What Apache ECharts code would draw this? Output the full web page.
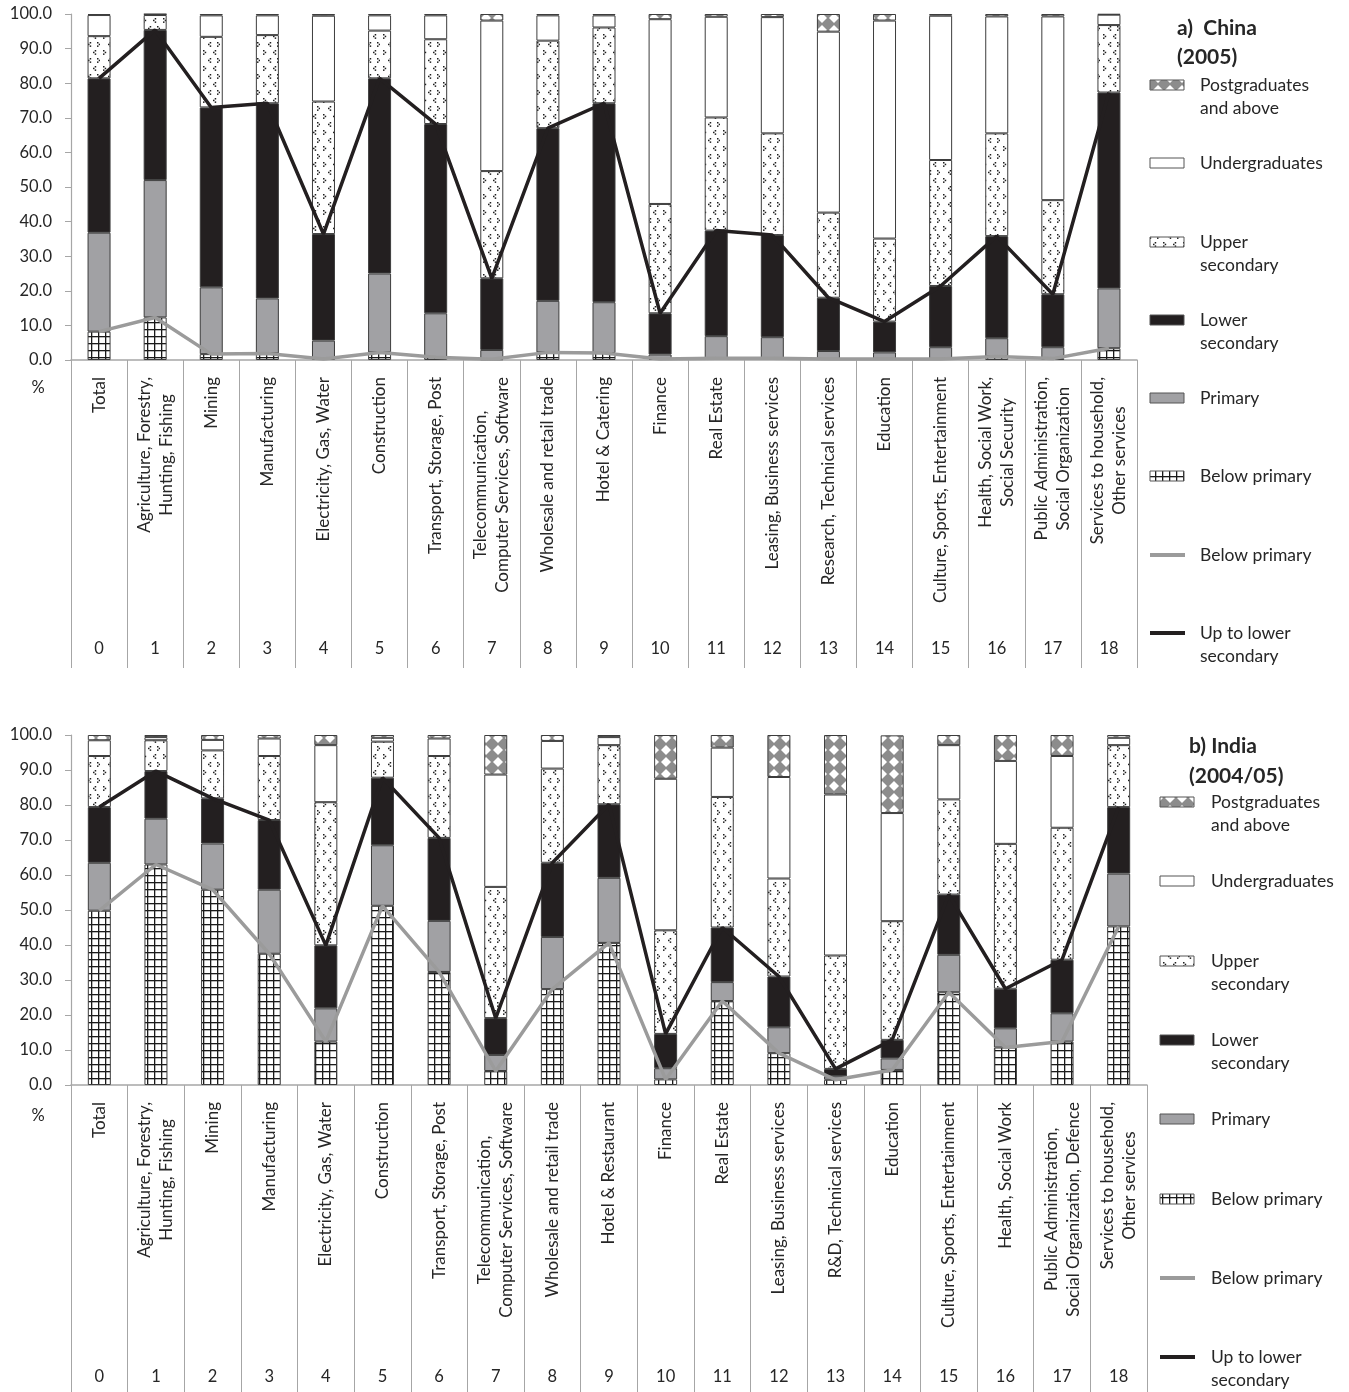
<!DOCTYPE html>
<html>
<head>
<meta charset="utf-8">
<script src="https://cdn.jsdelivr.net/npm/echarts@6/dist/echarts.min.js"></script>
<style>
  html, body { margin: 0; padding: 0; background: #fff; }
  #chart { width: 1349px; height: 1392px; }
</style>
</head>
<body>
<div id="chart"></div>
<script>
// ---- Sectors (x-axis categories) ----
const chinaSectors = [
  'Total', 'Agriculture, Forestry,\nHunting, Fishing', 'Mining', 'Manufacturing',
  'Electricity, Gas, Water', 'Construction', 'Transport, Storage, Post',
  'Telecommunication,\nComputer Services, Software', 'Wholesale and retail trade',
  'Hotel & Catering', 'Finance', 'Real Estate', 'Leasing, Business services',
  'Research, Technical services', 'Education', 'Culture, Sports, Entertainment',
  'Health, Social Work,\nSocial Security', 'Public Administration,\nSocial Organization',
  'Services to household,\nOther services'
];
const indiaSectors = [
  'Total', 'Agriculture, Forestry,\nHunting, Fishing', 'Mining', 'Manufacturing',
  'Electricity, Gas, Water', 'Construction', 'Transport, Storage, Post',
  'Telecommunication,\nComputer Services, Software', 'Wholesale and retail trade',
  'Hotel & Restaurant', 'Finance', 'Real Estate', 'Leasing, Business services',
  'R&D, Technical services', 'Education', 'Culture, Sports, Entertainment',
  'Health, Social Work', 'Public Administration,\nSocial Organization, Defence',
  'Services to household,\nOther services'
];
const sectorCodes = ['0','1','2','3','4','5','6','7','8','9','10','11','12','13','14','15','16','17','18'];

// ---- China (2005): share of workers by education level, % ----
const chinaBelowPrimary = [8.2, 12.3, 1.7, 1.9, 0.3, 2.2, 0.8, 0.2, 2.2, 2.0, 0.3, 0.5, 0.5, 0.3, 0.3, 0.3, 1.0, 0.4, 3.4];
const chinaPrimary      = [28.6, 39.7, 19.3, 15.9, 5.3, 22.8, 12.7, 2.7, 14.9, 14.7, 1.3, 6.4, 6.1, 2.3, 1.9, 3.4, 5.3, 3.3, 17.3];
const chinaLowerSec     = [44.6, 43.4, 52.0, 56.4, 30.8, 56.4, 54.7, 20.7, 49.9, 57.5, 11.9, 30.5, 29.5, 15.4, 8.9, 17.7, 29.5, 15.3, 56.6];
const chinaUpperSec     = [12.2, 4.3, 20.4, 19.7, 38.3, 13.8, 24.5, 31.0, 25.3, 21.9, 31.6, 32.7, 29.4, 24.6, 24.0, 36.4, 29.7, 27.2, 19.5];
const chinaUndergrad    = [6.1, 0.2, 6.2, 5.7, 24.8, 4.4, 6.9, 43.5, 7.3, 3.5, 53.4, 29.1, 33.6, 52.3, 63.0, 41.7, 33.8, 53.1, 3.0];
const chinaPostgrad     = [0.3, 0.1, 0.4, 0.4, 0.5, 0.4, 0.4, 1.9, 0.4, 0.4, 1.5, 0.8, 0.9, 5.1, 1.9, 0.5, 0.7, 0.7, 0.2];

// ---- India (2004/05): share of workers by education level, % ----
const indiaBelowPrimary = [49.8, 63.0, 55.8, 37.5, 12.4, 51.2, 32.3, 4.0, 27.4, 40.6, 1.6, 24.0, 9.1, 1.5, 4.3, 26.5, 10.7, 12.4, 45.3];
const indiaPrimary      = [13.7, 13.1, 13.2, 18.3, 9.5, 17.3, 14.6, 4.6, 14.9, 18.6, 3.2, 5.4, 7.4, 1.0, 3.3, 10.7, 5.5, 8.1, 15.1];
const indiaLowerSec     = [15.9, 13.6, 12.9, 19.9, 18.0, 19.3, 23.7, 10.5, 21.2, 21.0, 9.8, 15.6, 14.5, 2.1, 5.3, 17.2, 11.3, 15.3, 19.0];
const indiaUpperSec     = [14.6, 8.8, 13.7, 18.3, 40.9, 10.3, 23.4, 37.5, 26.9, 16.9, 29.6, 37.3, 28.0, 32.4, 33.9, 27.2, 41.4, 37.7, 17.7];
const indiaUndergrad    = [4.5, 0.9, 3.0, 5.0, 16.3, 1.1, 5.0, 32.1, 7.9, 2.3, 43.3, 14.1, 29.0, 46.0, 30.9, 15.5, 23.7, 20.5, 2.1];
const indiaPostgrad     = [1.5, 0.6, 1.4, 1.0, 2.9, 0.8, 1.0, 11.3, 1.7, 0.6, 12.5, 3.6, 12.0, 17.0, 22.2, 2.9, 7.4, 6.0, 0.8];

const FONT = 'Lato, "Open Sans", sans-serif';
const TEXT = '#262626';
const AXIS = '#a6a6a6';
const DARK = '#231f20';
const MID = '#a1a1a4';
const LINE_GREY = '#9b9b9b';

// ---- Fill patterns ----
function tile(w, h, draw) {
  const c = document.createElement('canvas');
  c.width = w; c.height = h;
  draw(c.getContext('2d'));
  return { image: c, repeat: 'repeat' };
}
const gridFill = tile(7, 7, g => {
  g.fillStyle = '#fff'; g.fillRect(0, 0, 7, 7);
  g.fillStyle = '#1a1a1a'; g.fillRect(0, 0, 7, 1.3); g.fillRect(0, 0, 1.3, 7);
});
// sparse "<" / ">" marks on white
const chevronFill = tile(20, 16, g => {
  g.fillStyle = '#fff'; g.fillRect(0, 0, 20, 16);
  g.fillStyle = '#1e1e1e';
  const dot = (x, y) => g.fillRect(x, y, 1.5, 1.5);
  const gt = (x, y) => { dot(x, y); dot(x + 1.7, y + 1.7); dot(x, y + 3.4); };
  const lt = (x, y) => { dot(x + 1.7, y); dot(x, y + 1.7); dot(x + 1.7, y + 3.4); };
  gt(3, 2); lt(13, 2); lt(8, 10); gt(17, 10);
});
const diamondFill = tile(12, 12, g => {
  g.fillStyle = '#8c8c8c'; g.fillRect(0, 0, 12, 12);
  g.fillStyle = '#fff';
  g.beginPath(); g.moveTo(6, 1); g.lineTo(11, 6); g.lineTo(6, 11); g.lineTo(1, 6); g.closePath(); g.fill();
});

const levels = [
  { name: 'Below primary', fill: gridFill },
  { name: 'Primary', fill: MID },
  { name: 'Lower secondary', fill: DARK },
  { name: 'Upper secondary', fill: chevronFill },
  { name: 'Undergraduates', fill: '#fff' },
  { name: 'Postgraduates and above', fill: diamondFill }
];

function addSum(a, b) { return a.map((v, i) => +(v + b[i]).toFixed(1)); }

function panelSeries(rows, axisIdx, tag) {
  const out = [];
  rows.forEach((vals, k) => {
    out.push({
      name: levels[k].name + ' ' + tag,
      type: 'bar', stack: tag, xAxisIndex: axisIdx, yAxisIndex: axisIdx / 2,
      barWidth: 23, data: vals,
      itemStyle: { color: levels[k].fill, borderColor: '#3d3d3d', borderWidth: 1 },
      emphasis: { disabled: true }
    });
  });
  const upToLower = addSum(addSum(rows[0], rows[1]), rows[2]);
  out.push({
    name: 'Below primary line ' + tag, type: 'line', xAxisIndex: axisIdx, yAxisIndex: axisIdx / 2,
    data: rows[0], symbol: 'none', z: 5,
    lineStyle: { color: LINE_GREY, width: 3.5 }
  });
  out.push({
    name: 'Up to lower secondary ' + tag, type: 'line', xAxisIndex: axisIdx, yAxisIndex: axisIdx / 2,
    data: upToLower, symbol: 'none', z: 6,
    lineStyle: { color: DARK, width: 3.5 }
  });
  return out;
}

function nameAxis(gridIndex, cats, tickLen) {
  return {
    type: 'category', gridIndex, data: cats, position: 'bottom',
    axisLine: { show: true, lineStyle: { color: AXIS, width: 1.5 } },
    axisTick: { show: true, interval: 0, length: tickLen, lineStyle: { color: AXIS, width: 1 } },
    axisLabel: {
      interval: 0, rotate: 90, margin: 17, color: TEXT,
      formatter: v => v.split('\n').map(s => '{c|' + s + '}').join('\n'),
      rich: { c: { align: 'center', fontSize: 17, fontFamily: FONT, color: TEXT, lineHeight: 22 } }
    }
  };
}
function codeAxis(gridIndex, margin) {
  return {
    type: 'category', gridIndex, data: sectorCodes, position: 'bottom',
    axisLine: { show: false }, axisTick: { show: false },
    axisLabel: { interval: 0, margin, fontSize: 16.5, fontFamily: FONT, color: TEXT }
  };
}
function valueAxis(gridIndex) {
  return {
    type: 'value', gridIndex, min: 0, max: 100, interval: 10,
    splitLine: { show: false },
    axisLine: { show: true, lineStyle: { color: AXIS, width: 1.2 } },
    axisTick: { show: true, length: 6, lineStyle: { color: AXIS } },
    axisLabel: { formatter: v => v.toFixed(1), fontSize: 16.5, fontFamily: FONT, color: TEXT, margin: 19 }
  };
}

// ---- Hand-drawn legend blocks at the right of each panel ----
function legendBlock(sx, tx, ys) {
  const items = [
    { label: 'Postgraduates\nand above', fill: diamondFill },
    { label: 'Undergraduates', fill: '#fff' },
    { label: 'Upper\nsecondary', fill: chevronFill },
    { label: 'Lower\nsecondary', fill: DARK },
    { label: 'Primary', fill: MID },
    { label: 'Below primary', fill: gridFill },
    { label: 'Below primary', line: LINE_GREY },
    { label: 'Up to lower\nsecondary', line: DARK }
  ];
  const els = [];
  items.forEach((it, i) => {
    const y = ys[i];
    if (it.line) {
      els.push({ type: 'line', shape: { x1: sx, y1: y, x2: sx + 35, y2: y }, style: { stroke: it.line, lineWidth: 4 } });
    } else {
      els.push({ type: 'rect', shape: { x: sx, y: y - 5, width: 34, height: 10 }, style: { fill: it.fill, stroke: '#555', lineWidth: 1 } });
    }
    els.push({
      type: 'text', x: tx, y: y - 11.5,
      style: { text: it.label, font: '17.5px ' + FONT, fill: TEXT, lineHeight: 23, verticalAlign: 'top', align: 'left' }
    });
  });
  return els;
}

const chinaRows = [chinaBelowPrimary, chinaPrimary, chinaLowerSec, chinaUpperSec, chinaUndergrad, chinaPostgrad];
const indiaRows = [indiaBelowPrimary, indiaPrimary, indiaLowerSec, indiaUpperSec, indiaUndergrad, indiaPostgrad];

const chart = echarts.init(document.getElementById('chart'), null, { renderer: 'canvas' });
chart.setOption({
  animation: false,
  backgroundColor: '#fff',
  textStyle: { fontFamily: FONT },
  grid: [
    { left: 71, top: 14, width: 1066, height: 346, outerBoundsMode: 'none' },
    { left: 71, top: 735, width: 1076, height: 350, outerBoundsMode: 'none' }
  ],
  xAxis: [
    nameAxis(0, chinaSectors, 308), codeAxis(0, 280),
    nameAxis(1, indiaSectors, 310), codeAxis(1, 283)
  ],
  yAxis: [valueAxis(0), valueAxis(1)],
  series: [].concat(panelSeries(chinaRows, 0, 'China'), panelSeries(indiaRows, 2, 'India')),
  graphic: [].concat(
    [
      { type: 'text', x: 38, y: 388, style: { text: '%', font: '16.5px ' + FONT, fill: TEXT, align: 'center', verticalAlign: 'middle' } },
      { type: 'text', x: 38, y: 1116, style: { text: '%', font: '16.5px ' + FONT, fill: TEXT, align: 'center', verticalAlign: 'middle' } },
      { type: 'text', x: 1177, y: 14, style: { text: 'a)  China\n(2005)', font: 'bold 21px ' + FONT, fill: TEXT, lineHeight: 29, verticalAlign: 'top' } },
      { type: 'text', x: 1189, y: 731, style: { text: 'b) India\n(2004/05)', font: 'bold 21px ' + FONT, fill: TEXT, lineHeight: 30, verticalAlign: 'top' } }
    ],
    legendBlock(1150, 1200, [85, 163, 242, 320, 398, 476, 555, 633]),
    legendBlock(1160, 1211, [802, 881, 961, 1040, 1119, 1199, 1278, 1357])
  )
});
</script>
</body>
</html>
